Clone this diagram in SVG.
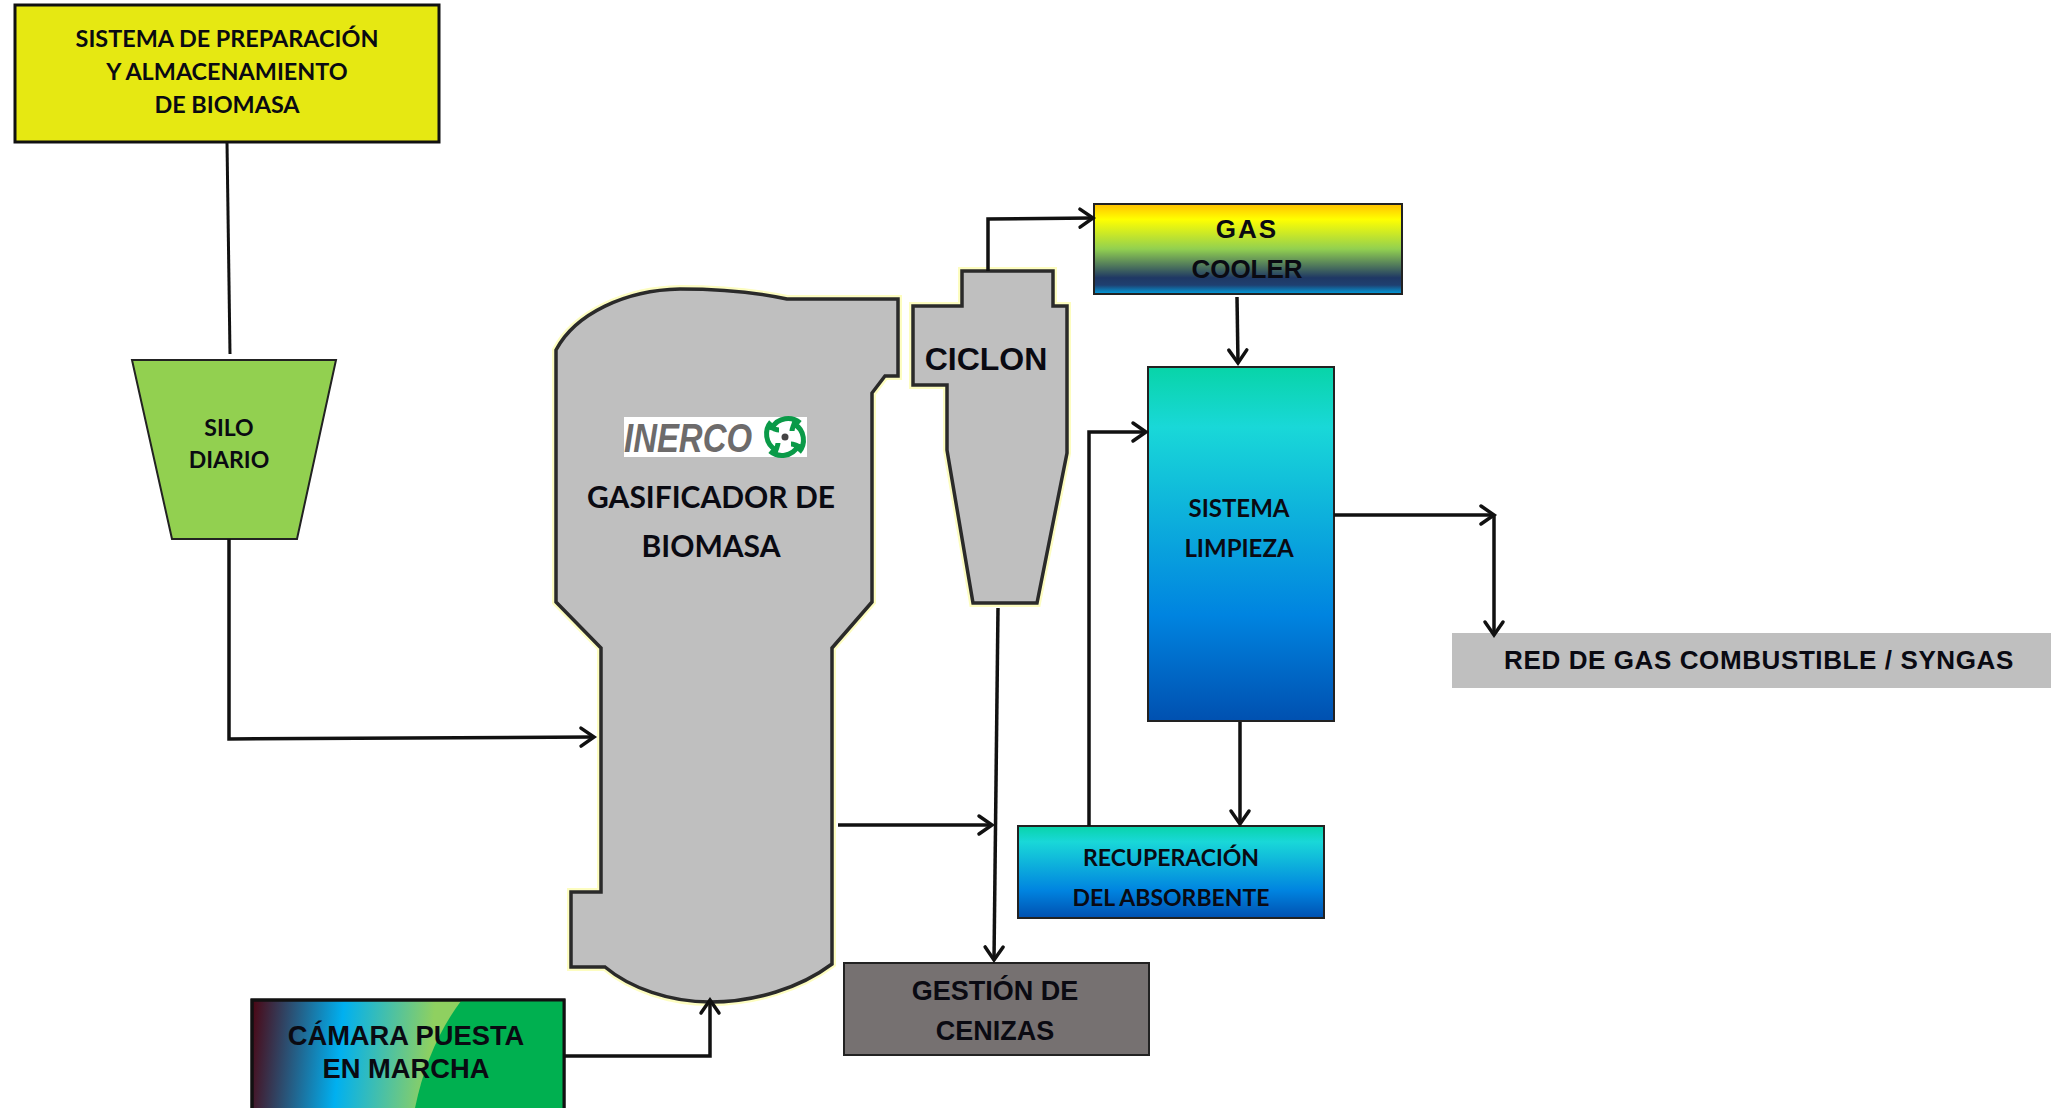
<svg xmlns="http://www.w3.org/2000/svg" width="2051" height="1108" viewBox="0 0 2051 1108">
<style>
.c{font-family:"Lato","Liberation Sans",sans-serif;font-weight:700;fill:#0a0a12;text-anchor:middle}
.a{font-family:"Liberation Sans",Arial,sans-serif;font-weight:700;fill:#0a0a12;text-anchor:middle}
.box{stroke:#111;stroke-width:3}
.thin{stroke:#222;stroke-width:2}
.eq{fill:#bfbfbf;stroke:#2a2a2a;stroke-width:3.5;stroke-linejoin:miter}
.halo{fill:none;stroke:#fdfdc0;stroke-width:8;stroke-linejoin:miter}
.ln{fill:none;stroke:#111;stroke-width:3.5;marker-end:url(#ah)}
.pl{fill:none;stroke:#111;stroke-width:3}
</style>
<defs>
<marker id="ah" markerUnits="userSpaceOnUse" markerWidth="26" markerHeight="26" refX="20" refY="13" orient="auto" overflow="visible">
<path d="M7 4L20 13L7 22" fill="none" stroke="#111" stroke-width="3.5" stroke-linecap="round"/>
</marker>
<linearGradient id="gc" x1="0" y1="0" x2="0" y2="1">
<stop offset="0" stop-color="#ffc000"/><stop offset=".17" stop-color="#ffff00"/><stop offset=".5" stop-color="#92d050"/><stop offset=".82" stop-color="#1f3864"/><stop offset=".9" stop-color="#1f3f70"/><stop offset="1" stop-color="#00a0e0"/>
</linearGradient>
<linearGradient id="lp" x1="0" y1="0" x2="0" y2="1">
<stop offset="0" stop-color="#08d4a8"/><stop offset=".17" stop-color="#19d8d8"/><stop offset=".7" stop-color="#0084e0"/><stop offset="1" stop-color="#0050b0"/>
</linearGradient>
<linearGradient id="cm" gradientUnits="userSpaceOnUse" x1="251" y1="1040" x2="462" y2="1060">
<stop offset="0" stop-color="#4a0a18"/><stop offset=".42" stop-color="#00b0f0"/><stop offset=".85" stop-color="#8fd060"/><stop offset="1" stop-color="#8fd060"/>
</linearGradient>
<path id="blade" d="M15 -14C7 -21 -7 -20 -13 -9C-10 -8 -8 -7 -6 -7" fill="none" stroke="#0a9a48" stroke-width="5"/>
</defs>

<rect width="2051" height="1108" fill="#fff"/>

<g id="sistema-preparacion">
<rect x="15" y="5" width="424" height="137" fill="#e6e812" class="box"/>
<text class="c" font-size="23.4" x="227" y="47">SISTEMA DE PREPARACIÓN</text>
<text class="c" font-size="23.4" x="227" y="80">Y ALMACENAMIENTO</text>
<text class="c" font-size="23.4" x="227" y="113">DE BIOMASA</text>
</g>

<g id="silo">
<polygon points="132,360 336,360 297,539 172,539" fill="#92d050" class="thin"/>
<text class="c" font-size="23" x="229" y="436">SILO</text>
<text class="c" font-size="23" x="229" y="468">DIARIO</text>
</g>

<g id="gasificador">
<path class="halo" d="M556 350C575 314 625 290 680 289C720 289 755 292 787 299L898 299L898 376L885 376L872 393L872 602L832 648L832 964C800 988 755 1002 710 1002C670 1002 630 988 605 967L571 967L571 892L601 892L601 648L556 602Z"/>
<path class="eq" d="M556 350C575 314 625 290 680 289C720 289 755 292 787 299L898 299L898 376L885 376L872 393L872 602L832 648L832 964C800 988 755 1002 710 1002C670 1002 630 988 605 967L571 967L571 892L601 892L601 648L556 602Z"/>
<rect x="624" y="417" width="183" height="40" fill="#fff"/>
<text x="624" y="452" font-family="'Liberation Sans',sans-serif" font-weight="700" font-style="italic" font-size="41" fill="#6d6b6b" textLength="128" lengthAdjust="spacingAndGlyphs">INERCO</text>
<g transform="translate(785 437)">
<use href="#blade"/>
<use href="#blade" transform="rotate(90)"/>
<use href="#blade" transform="rotate(180)"/>
<use href="#blade" transform="rotate(270)"/>
<circle r="3.5" fill="#444"/>
</g>
<text class="c" font-size="30" x="711" y="508">GASIFICADOR DE</text>
<text class="c" font-size="30" x="711" y="557">BIOMASA</text>
</g>

<g id="ciclon">
<path class="halo" d="M962 271L1053 271L1053 306L1067 306L1067 453L1037 603L973 603L947 450L947 385L913 385L913 306L962 306Z"/>
<path class="eq" d="M962 271L1053 271L1053 306L1067 306L1067 453L1037 603L973 603L947 450L947 385L913 385L913 306L962 306Z"/>
<text class="a" font-size="32" x="986" y="370">CICLON</text>
</g>

<g id="gas-cooler">
<rect x="1094" y="204" width="308" height="90" fill="url(#gc)" class="thin"/>
<text class="a" font-size="26" x="1247" y="238" letter-spacing="2">GAS</text>
<text class="a" font-size="26" x="1247" y="278">COOLER</text>
</g>

<g id="sistema-limpieza">
<rect x="1148" y="367" width="186" height="354" fill="url(#lp)" class="thin"/>
<text class="c" font-size="24" x="1239" y="517">SISTEMA</text>
<text class="c" font-size="24" x="1239" y="557">LIMPIEZA</text>
</g>

<g id="recuperacion">
<rect x="1018" y="826" width="306" height="92" fill="url(#lp)" class="thin"/>
<text class="c" font-size="23" x="1171" y="866">RECUPERACIÓN</text>
<text class="c" font-size="23" x="1171" y="906">DEL ABSORBENTE</text>
</g>

<g id="red-gas">
<rect x="1452" y="633" width="599" height="55" fill="#bfbfbf"/>
<text class="a" font-size="26" x="1759" y="669" letter-spacing="0.6">RED DE GAS COMBUSTIBLE / SYNGAS</text>
</g>

<g id="gestion-cenizas">
<rect x="844" y="963" width="305" height="92" fill="#767171" class="thin"/>
<text class="a" font-size="27" x="995" y="1000">GESTIÓN DE</text>
<text class="a" font-size="27" x="995" y="1040">CENIZAS</text>
</g>

<g id="camara">
<rect x="252" y="1000" width="312" height="110" fill="url(#cm)" class="box"/>
<path d="M461 1001Q428 1045 415 1108L563 1108L563 1001Z" fill="#00b050"/>
<rect x="252" y="1000" width="312" height="110" fill="none" class="box"/>
<text class="a" font-size="27.3" x="406" y="1045">CÁMARA PUESTA</text>
<text class="a" font-size="27.3" x="406" y="1078">EN MARCHA</text>
</g>

<g id="connectors">
<path class="pl" d="M227 142L230 354"/>
<path class="ln" d="M229 539L229 739L594 737"/>
<path class="ln" d="M838 825L992 825"/>
<path class="ln" d="M998 608L994 960"/>
<path class="ln" d="M988 271L988 219L1093 218"/>
<path class="ln" d="M1237 297L1238 363"/>
<path class="ln" d="M1089 826L1089 432L1146 432"/>
<path class="ln" d="M1334 515L1494 515"/>
<path class="ln" d="M1494 515L1494 635"/>
<path class="ln" d="M1240 722L1240 824"/>
<path class="ln" d="M564 1056L710 1056L710 1000"/>
</g>
</svg>
